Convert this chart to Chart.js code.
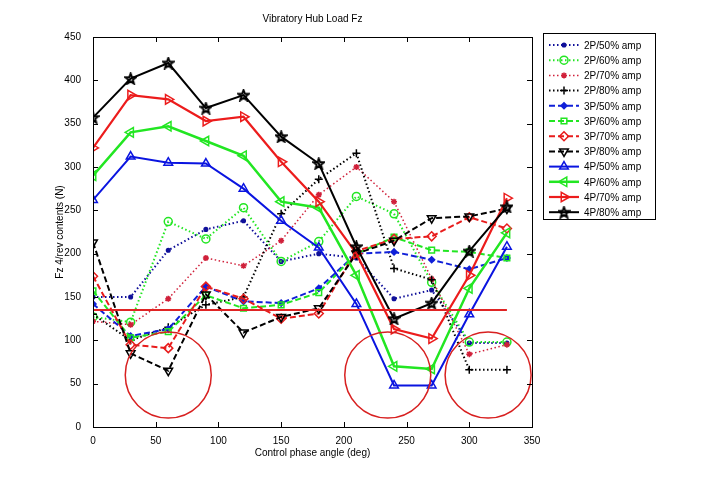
<!DOCTYPE html>
<html>
<head>
<meta charset="utf-8">
<script src="https://cdn.jsdelivr.net/npm/chart.js@4.4.1/dist/chart.umd.min.js"></script>
<style>
  html, body { margin: 0; padding: 0; background: #fff; }
  #wrap { width: 720px; height: 481px; }
</style>
</head>
<body>
<div id="wrap"><canvas id="hub" width="720" height="481"></canvas></div>
<script>
// Control phase angles (deg)
const angles = [0, 30, 60, 90, 120, 150, 180, 210, 240, 270, 300, 330];

const seriesNames = [
    '2P/50% amp', '2P/60% amp', '2P/70% amp', '2P/80% amp',
    '3P/50% amp', '3P/60% amp', '3P/70% amp', '3P/80% amp',
    '4P/50% amp', '4P/60% amp', '4P/70% amp', '4P/80% amp'
];

// Fz 4/rev contents (N)
const p2a50 = [150, 150, 204, 228, 238, 191, 200, 195, 148, 158, 97, 97];
const p2a60 = [127, 121, 237, 217, 253, 191, 214, 266, 246, 167, 98, 98];
const p2a70 = [122, 118, 148, 195, 186, 215, 268, 300, 260, 171, 84, 95];
const p2a80 = [130, 100, 115, 141, 150, 246, 286, 316, 183, 170, 66, 66];
const p3a50 = [142, 105, 113, 162, 145, 143, 160, 200, 202, 193, 182, 195];
const p3a60 = [157, 103, 110, 152, 137, 141, 155, 200, 219, 204, 202, 195];
const p3a70 = [174, 95, 91, 162, 148, 125, 131, 203, 217, 220, 242, 229];
const p3a80 = [213, 85, 65, 153, 109, 127, 137, 200, 215, 241, 243, 252];
const p4a50 = [262, 312, 305, 304, 275, 238, 207, 142, 48, 48, 130, 208];
const p4a60 = [290, 340, 347, 330, 313, 260, 253, 175, 70, 67, 160, 224];
const p4a70 = [322, 383, 378, 353, 358, 306, 260, 200, 113, 102, 175, 264];
const p4a80 = [357, 402, 420, 368, 383, 335, 304, 208, 125, 143, 203, 254];

const seriesValues = [p2a50, p2a60, p2a70, p2a80, p3a50, p3a60, p3a70, p3a80, p4a50, p4a60, p4a70, p4a80];

// Reference level line
const refAngles = [0, 330];
const refLoad = [135, 135];

// Highlight circles
const circleAngles = [60, 235, 315];
const circleLoads = [60, 60, 60];

const xTickStep = 50;
const yTickStep = 50;

/**
 * Pentagram marker (MATLAB 'p')
 */
function pentagram(size, color) {
    const c = document.createElement('canvas');
    c.width = size; c.height = size;
    const g = c.getContext('2d');
    const cx = size / 2, cy = size / 2 + 0.5, R = size / 2 - 1, r = R * 0.42;
    g.strokeStyle = color;
    g.lineWidth = 2;
    g.beginPath();
    for (let i = 0; i < 10; i++) {
        const a = -Math.PI / 2 + i * Math.PI / 5;
        const rr = i % 2 ? r : R;
        const px = cx + rr * Math.cos(a), py = cy + rr * Math.sin(a);
        if (i === 0) g.moveTo(px, py); else g.lineTo(px, py);
    }
    g.closePath();
    g.stroke();
    return c;
}

const DOT = [1.5, 2.5];
const DASH = [6, 3];
const SOLID = [];
const NONE = 'rgba(0,0,0,0)';

// Estilo por serie: color, trazo, marcador
const styles = [
    { color: '#10109a', dash: DOT,   width: 2,   marker: 'circle',   radius: 1.8, rot: 0,   fill: true },
    { color: '#22e622', dash: DOT,   width: 2,   marker: 'circle',   radius: 4,   rot: 0,   fill: false },
    { color: '#d0203a', dash: DOT,   width: 1.5, marker: 'star',     radius: 3,   rot: 0,   fill: true },
    { color: '#000000', dash: DOT,   width: 2,   marker: 'cross',    radius: 4,   rot: 0,   fill: false },
    { color: '#1020d8', dash: DASH,  width: 2,   marker: 'rectRot',  radius: 3,   rot: 0,   fill: true },
    { color: '#22e622', dash: DASH,  width: 2,   marker: 'rect',     radius: 4,   rot: 0,   fill: false },
    { color: '#e81c1c', dash: DASH,  width: 2,   marker: 'rectRot',  radius: 4.5, rot: 0,   fill: false },
    { color: '#000000', dash: DASH,  width: 2,   marker: 'triangle', radius: 5,   rot: 180, fill: false },
    { color: '#0a14e0', dash: SOLID, width: 2,   marker: 'triangle', radius: 5,   rot: 0,   fill: false },
    { color: '#22e622', dash: SOLID, width: 2.5, marker: 'triangle', radius: 5.5, rot: -90, fill: false },
    { color: '#ec1c1c', dash: SOLID, width: 2.2, marker: 'triangle', radius: 5.5, rot: 90,  fill: false },
    { color: '#000000', dash: SOLID, width: 2,   marker: pentagram(13, '#000'), radius: 6, rot: 0, fill: false }
];

const seriesSets = seriesValues.map((vals, i) => {
    const s = styles[i];
    return {
        type: 'line',
        label: seriesNames[i],
        data: angles.map((a, j) => ({ x: a, y: vals[j] })),
        borderColor: s.color,
        borderDash: s.dash,
        borderWidth: s.width,
        pointStyle: s.marker,
        pointRadius: s.radius,
        pointRotation: s.rot,
        pointBorderColor: s.color,
        pointBackgroundColor: s.fill ? s.color : NONE,
        pointBorderWidth: 1.5,
        fill: false,
        tension: 0,
        order: 20 - i
    };
});

const refSet = {
    type: 'line',
    label: 'ref',
    data: refAngles.map((a, j) => ({ x: a, y: refLoad[j] })),
    borderColor: '#e02424',
    borderWidth: 2,
    pointRadius: 0,
    fill: false,
    order: 5
};

const circleSet = {
    type: 'bubble',
    label: 'circles',
    data: circleAngles.map((a, j) => ({ x: a, y: circleLoads[j], r: 43 })),
    backgroundColor: NONE,
    borderColor: '#d82020',
    borderWidth: 1.5,
    order: 0
};

const FONT = '"Liberation Sans", Arial, sans-serif';

/**
 * Marco, ticks interiores, título y leyenda estilo MATLAB
 */
const matlabFrame = {
    id: 'matlabFrame',
    afterDraw(chart) {
        const { ctx, chartArea: a, scales } = chart;
        ctx.save();
        ctx.strokeStyle = '#000';
        ctx.lineWidth = 1;
        ctx.strokeRect(a.left + 0.5, a.top + 0.5, a.right - a.left, a.bottom - a.top);
        const tl = 5;
        ctx.beginPath();
        scales.x.ticks.forEach(t => {
            const px = Math.round(scales.x.getPixelForValue(t.value)) + 0.5;
            ctx.moveTo(px, a.bottom); ctx.lineTo(px, a.bottom - tl);
            ctx.moveTo(px, a.top); ctx.lineTo(px, a.top + tl);
        });
        scales.y.ticks.forEach(t => {
            const py = Math.round(scales.y.getPixelForValue(t.value)) + 0.5;
            ctx.moveTo(a.left, py); ctx.lineTo(a.left + tl, py);
            ctx.moveTo(a.right, py); ctx.lineTo(a.right - tl, py);
        });
        ctx.stroke();

        // Título
        ctx.fillStyle = '#000';
        ctx.font = '10px ' + FONT;
        ctx.textAlign = 'center';
        ctx.textBaseline = 'middle';
        ctx.fillText('Vibratory Hub Load Fz', (a.left + a.right) / 2, a.top - 18);

        // Leyenda
        const bx = a.right + 11, by = a.top - 4, bw = 112, bh = 186;
        ctx.fillStyle = '#fff';
        ctx.fillRect(bx, by, bw, bh);
        ctx.strokeRect(bx + 0.5, by + 0.5, bw, bh);
        const rowH = 15.2;
        seriesSets.forEach((ds, i) => {
            const y = by + 12 + i * rowH;
            const s = styles[i];
            ctx.save();
            ctx.strokeStyle = s.color;
            ctx.lineWidth = s.width;
            ctx.setLineDash(s.dash);
            ctx.beginPath();
            ctx.moveTo(bx + 6, y); ctx.lineTo(bx + 36, y);
            ctx.stroke();
            ctx.setLineDash([]);
            ctx.lineWidth = 1.5;
            ctx.fillStyle = s.fill ? s.color : NONE;
            Chart.helpers.drawPoint(ctx, {
                pointStyle: s.marker, rotation: s.rot, radius: s.radius, borderWidth: 1.5
            }, bx + 21, y);
            ctx.restore();
            ctx.fillStyle = '#000';
            ctx.font = '10px ' + FONT;
            ctx.textAlign = 'left';
            ctx.fillText(seriesNames[i], bx + 41, y + 1);
        });
        ctx.restore();
    }
};

new Chart(document.getElementById('hub').getContext('2d'), {
    type: 'line',
    data: { datasets: [...seriesSets, refSet, circleSet] },
    plugins: [matlabFrame],
    options: {
        responsive: false,
        animation: false,
        events: [],
        layout: {
            autoPadding: false,
            padding: { left: 50, top: 37, right: 188, bottom: 22 }
        },
        plugins: {
            legend: { display: false },
            tooltip: { enabled: false }
        },
        scales: {
            x: {
                type: 'linear',
                min: 0,
                max: 350,
                grid: { display: false },
                border: { display: false },
                ticks: {
                    stepSize: xTickStep,
                    color: '#000',
                    padding: 0,
                    font: { family: FONT, size: 10 }
                },
                title: {
                    display: true,
                    text: 'Control phase angle (deg)',
                    color: '#000',
                    padding: { top: 2, bottom: 0 },
                    font: { family: FONT, size: 10 }
                },
                afterFit(scale) { scale.height = 32; }
            },
            y: {
                min: 0,
                max: 450,
                grid: { display: false },
                border: { display: false },
                ticks: {
                    stepSize: yTickStep,
                    color: '#000',
                    padding: 4,
                    font: { family: FONT, size: 10 }
                },
                title: {
                    display: true,
                    text: 'Fz 4/rev contents (N)',
                    color: '#000',
                    padding: 4,
                    font: { family: FONT, size: 10 }
                },
                afterFit(scale) { scale.width = 43; }
            }
        }
    }
});
</script>
</body>
</html>
